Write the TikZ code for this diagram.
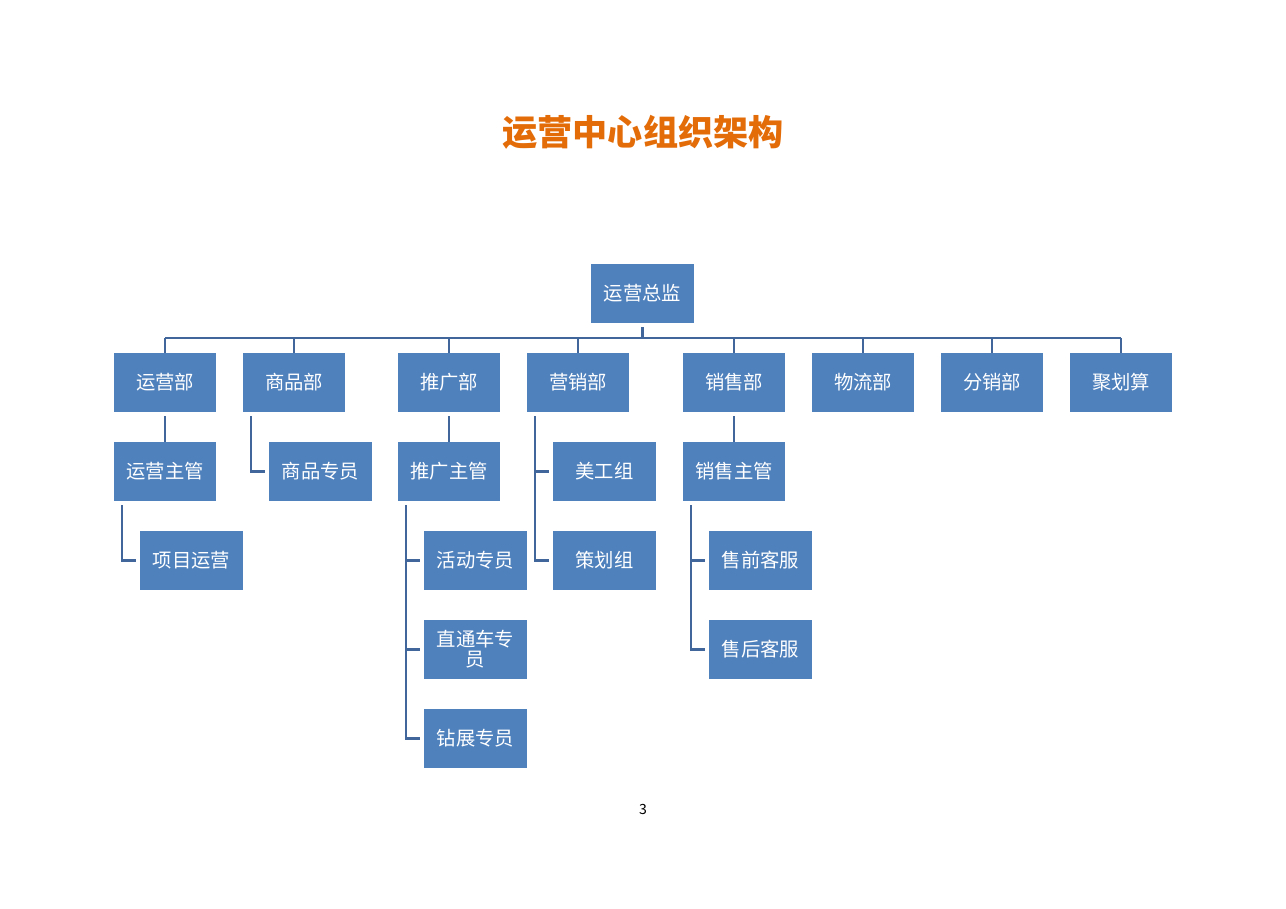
\documentclass[tikz,border=0pt]{standalone}
\usepackage{fontspec}
\setmainfont{Noto Sans CJK SC}
\usepackage{xcolor}
\usetikzlibrary{positioning}
\definecolor{boxblue}{HTML}{4F81BD}
\definecolor{lineblue}{HTML}{41669C}
\definecolor{titleorange}{HTML}{E36C09}

\begin{document}
\begin{tikzpicture}[x=0.02cm,y=-0.02cm,
  box/.style={fill=boxblue,text=white,minimum width=2.06cm,minimum height=1.18cm,
    inner sep=1pt,align=center,font=\fontsize{11}{11.5}\selectfont},
  conn/.style={lineblue,line width=1.6pt,shorten <=0.08cm}]
\useasboundingbox (0,0) rectangle (1286,909);

% Title
\node[text=titleorange,font=\fontsize{20}{24}\selectfont\bfseries] (title) at (643,132) {运营中心组织架构};

% Top level
\node[box] (zj) at (642.5,293.5) {运营总监};

% Departments
\foreach \x/\name/\txt in {165/yy/运营部, 294/sp/商品部, 449/tg/推广部, 578/yx/营销部,
  734/xs/销售部, 863/wl/物流部, 992/fx/分销部, 1121/jhs/聚划算}
  \node[box] (\name) at (\x,382.5) {\txt};

% Second row
\node[box] (yyzg) at (165,471.5) {运营主管};
\node[box] (spzy) at (320.5,471.5) {商品专员};
\node[box] (tgzg) at (449,471.5) {推广主管};
\node[box] (mgz) at (604.5,471.5) {美工组};
\node[box] (xszg) at (734,471.5) {销售主管};

% Third row and below
\node[box] (xmyy) at (191.5,560.5) {项目运营};
\node[box] (hdzy) at (475.5,560.5) {活动专员};
\node[box] (chz) at (604.5,560.5) {策划组};
\node[box] (sqkf) at (760.5,560.5) {售前客服};
\node[box] (ztc) at (475.5,649.5) {直通车专\\员};
\node[box] (shkf) at (760.5,649.5) {售后客服};
\node[box] (zzzy) at (475.5,738.5) {钻展专员};

% Bus from the top
\coordinate (bus) at (642.5,338);
\draw[conn] (zj.south) -- (bus);
\draw[lineblue,line width=1.6pt] (yy.north |- bus) -- (jhs.north |- bus);
\foreach \name in {yy,sp,tg,yx,xs,wl,fx,jhs}
  \draw[lineblue,line width=1.6pt] (\name.north |- bus) -- (\name.north);

% Straight drops
\draw[conn] (yy.south) -- (yyzg.north);
\draw[conn] (tg.south) -- (tgzg.north);
\draw[conn] (xs.south) -- (xszg.north);

% Elbow connectors
\foreach \a/\b in {yyzg/xmyy, sp/spzy, yx/mgz, yx/chz, tgzg/hdzy, tgzg/ztc, tgzg/zzzy,
  xszg/sqkf, xszg/shkf}
  \draw[conn,shorten >=0.08cm] ([xshift=-0.86cm]\a.south) |- (\b.west);

% Page number
\node[font=\fontsize{8}{9}\selectfont] (pg) at (643,809) {3};
\end{tikzpicture}
\end{document}
